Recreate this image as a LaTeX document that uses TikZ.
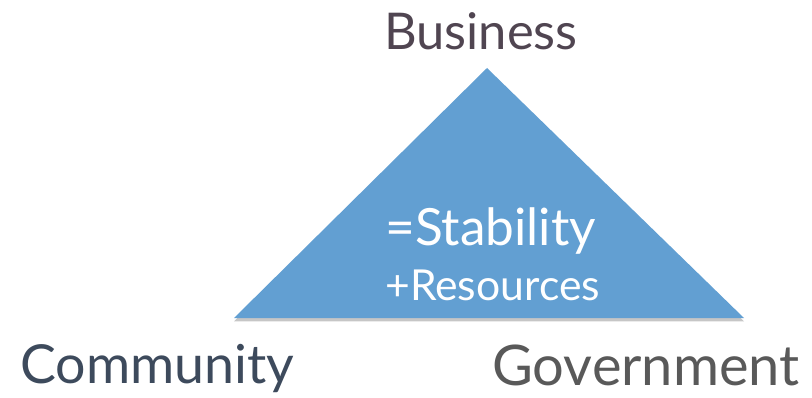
\documentclass[tikz,border=0pt]{standalone}
\usepackage{fontspec}
\setmainfont{Lato}
\usetikzlibrary{shadows}
\definecolor{triblue}{HTML}{629FD2}
\definecolor{bizgray}{HTML}{504551}
\definecolor{comblue}{HTML}{3D4A5C}
\definecolor{govgray}{HTML}{595959}
\begin{document}
\begin{tikzpicture}[x=0.75pt,y=0.75pt]
      \useasboundingbox (0,0) rectangle (812,397);
      \coordinate (apex) at (487,329);
      \coordinate (left) at (234,79);
      \coordinate (right) at (744,79);
      \fill[triblue,drop shadow={shadow xshift=0pt,shadow yshift=-2.5pt,opacity=0.45}] (left) -- (apex) -- (right) -- cycle;
      \node[anchor=base,text=bizgray,font=\fontsize{38}{40}\selectfont,inner sep=0pt] (business) at (481,347) {Business};
      \node[anchor=base west,text=comblue,font=\fontsize{40.3}{44}\selectfont,inner sep=0pt] (community) at (20,14) {Community};
      \node[anchor=base east,text=govgray,font=\fontsize{42}{45}\selectfont,inner sep=0pt] (government) at (800,12) {Government};
      \node[anchor=base west,text=white,font=\fontsize{38.5}{41}\selectfont,inner sep=0pt] (stability) at (385,152) {=Stability};
      \node[anchor=base west,text=white,font=\fontsize{32}{35}\selectfont,inner sep=0pt] (resources) at (385,97) {+Resources};
    \end{tikzpicture}
\end{document}
